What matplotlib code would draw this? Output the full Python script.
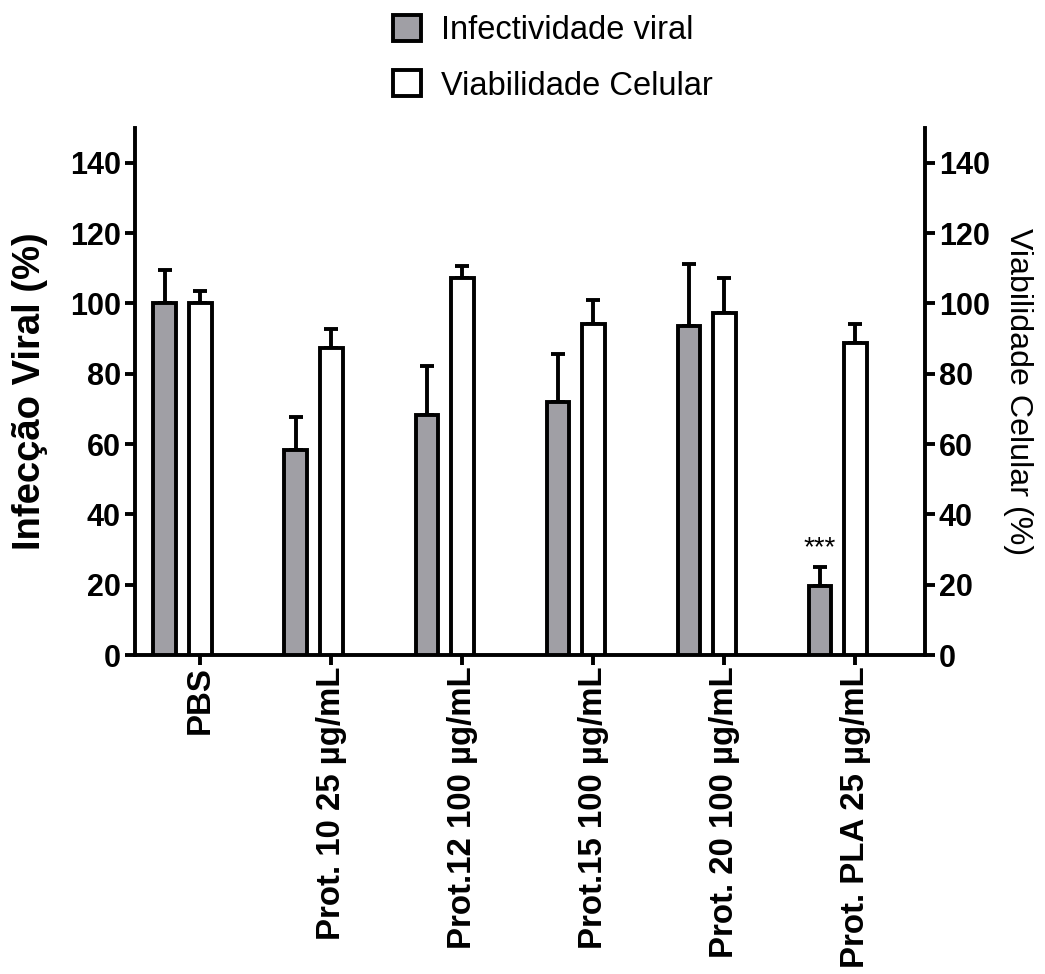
import matplotlib
matplotlib.use('Agg')
import matplotlib.pyplot as plt
import numpy as np
from matplotlib.patches import Patch

plt.rcParams['font.family'] = ['Liberation Sans', 'DejaVu Sans']

# Dados (média e erro superior)
grupos = ['PBS', 'Prot. 10 25 µg/mL', 'Prot.12 100 µg/mL', 'Prot.15 100 µg/mL',
          'Prot. 20 100 µg/mL', 'Prot. PLA 25 µg/mL']
infeccao = [100.0, 58.4, 68.4, 72.1, 93.5, 19.5]
infeccao_err = [9.5, 9.2, 13.9, 13.4, 17.8, 5.6]
viabilidade = [100.0, 87.3, 107.1, 94.1, 97.3, 88.8]
viabilidade_err = [3.5, 5.4, 3.6, 6.9, 9.8, 5.3]
signif = ['', '', '', '', '', '***']

cinza = '#a09fa5'
lw = 2.8

fig = plt.figure(figsize=(10.45, 9.74), dpi=100)
ax = fig.add_axes([0.129, 0.3275, 0.756, 0.5415])

x = np.arange(len(grupos))
larg = 0.175
x_inf = x - 0.27
x_via = x

ax.bar(x_inf, infeccao, width=larg, color=cinza, edgecolor='black', linewidth=lw, zorder=3)
ax.bar(x_via, viabilidade, width=larg, color='white', edgecolor='black', linewidth=lw, zorder=3)

zeros = np.zeros(len(grupos))
ax.errorbar(x_inf, infeccao, yerr=[zeros, infeccao_err], fmt='none', ecolor='black',
            elinewidth=lw, capsize=5, capthick=lw, zorder=2)
ax.errorbar(x_via, viabilidade, yerr=[zeros, viabilidade_err], fmt='none', ecolor='black',
            elinewidth=lw, capsize=5, capthick=lw, zorder=2)

for xi, v, e, s in zip(x_inf, infeccao, infeccao_err, signif):
    if s:
        ax.text(xi, v + e + 1.5, s, ha='center', va='bottom', fontsize=20)

ax.set_xlim(-0.5, 5.53)
ax.set_ylim(0, 150)
ax.set_yticks(np.arange(0, 141, 20))
ax.set_xticks(x)
ax.set_xticklabels(grupos, rotation=90, fontsize=23.8, fontweight='bold', va='top', ha='center')
for lab in ax.get_yticklabels():
    lab.set_fontweight('bold')
    lab.set_fontsize(22)
ax.set_ylabel('Infecção Viral (%)', fontsize=27.5, fontweight='bold', labelpad=16)

for sp in ['left', 'bottom']:
    ax.spines[sp].set_linewidth(lw)
ax.spines['top'].set_visible(False)
ax.spines['right'].set_visible(False)
ax.tick_params(axis='both', width=lw, length=7, pad=3)
ax.tick_params(axis='x', pad=1)

# eixo direito: viabilidade celular
ax2 = ax.twinx()
ax2.set_ylim(0, 150)
ax2.set_yticks(np.arange(0, 141, 20))
for lab in ax2.get_yticklabels():
    lab.set_fontweight('bold')
    lab.set_fontsize(22)
ax2.spines['right'].set_linewidth(lw)
for sp in ['left', 'bottom', 'top']:
    ax2.spines[sp].set_visible(False)
ax2.tick_params(axis='y', width=lw, length=7, pad=3)
ax2.set_ylabel('Viabilidade Celular (%)', fontsize=23.2, rotation=270, labelpad=31)

handles = [Patch(facecolor=cinza, edgecolor='black', linewidth=lw, label='Infectividade viral'),
           Patch(facecolor='white', edgecolor='black', linewidth=lw, label='Viabilidade Celular')]
fig.legend(handles=handles, loc='upper center', bbox_to_anchor=(0.529, 1.015), frameon=False,
           fontsize=23.5, handlelength=0.85, handleheight=0.85, handletextpad=0.6, labelspacing=0.74)

plt.savefig('out.png', dpi=100)
